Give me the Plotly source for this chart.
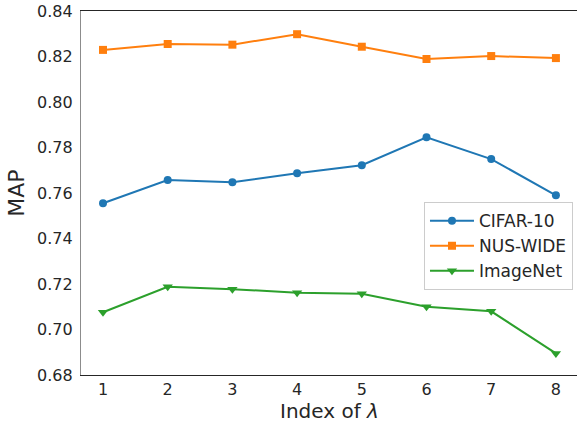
import plotly.graph_objects as go

x_index = [1, 2, 3, 4, 5, 6, 7, 8]
cifar10 = [0.7555, 0.7657, 0.7647, 0.7687, 0.7722, 0.7845, 0.7749, 0.7590]
nuswide = [0.8229, 0.8255, 0.8252, 0.8298, 0.8243, 0.8189, 0.8202, 0.8193]
imagenet = [0.7076, 0.7188, 0.7177, 0.7162, 0.7157, 0.7100, 0.7080, 0.6895]
y_ticks = [0.68, 0.70, 0.72, 0.74, 0.76, 0.78, 0.80, 0.82, 0.84]

FONT = "DejaVu Sans"
TXT = "#262626"

fig = go.Figure()
series = [
    ("CIFAR-10", cifar10, "#1f77b4", "circle", 8),
    ("NUS-WIDE", nuswide, "#ff7f0e", "square", 8),
    ("ImageNet", imagenet, "#2ca02c", "triangle-down", 9),
]
for name, vals, col, sym, sz in series:
    fig.add_trace(go.Scatter(
        x=x_index, y=vals, name=name, mode="lines+markers",
        line=dict(color=col, width=2),
        marker=dict(color=col, symbol=sym, size=sz, line=dict(width=0)),
        legendgroup=name,
    ))

fig.update_layout(
    width=577, height=422,
    margin=dict(l=81, r=0, t=11, b=47),
    paper_bgcolor="white", plot_bgcolor="white",
    font=dict(family=FONT, size=16, color=TXT),
    showlegend=True,
    legend=dict(
        x=0.6915, y=0.475, xanchor="left", yanchor="top",
        bordercolor="#cccccc", borderwidth=1, bgcolor="rgba(255,255,255,0.8)",
        font=dict(family=FONT, size=17, color=TXT),
        tracegroupgap=0, itemwidth=44,
    ),
    annotations=[dict(
        text="Index of <i>λ</i>", xref="paper", yref="paper",
        x=0.5, y=-0.1, xanchor="center", yanchor="middle",
        height=22, valign="middle", borderpad=0,
        showarrow=False, font=dict(family=FONT, size=20, color=TXT),
    )],
)
fig.update_xaxes(
    range=[0.66, 8.326], tickmode="array", tickvals=x_index,
    ticktext=[str(v) for v in x_index],
    showgrid=False, zeroline=False, automargin=False,
    showline=True, linecolor=TXT, linewidth=1.25, mirror=True,
    ticks="", ticklen=0,
    tickfont=dict(family=FONT, size=16, color=TXT),
)
fig.update_yaxes(
    range=[0.68, 0.84], tickmode="array", tickvals=y_ticks,
    ticktext=[f"{v:.2f}" for v in y_ticks],
    showgrid=False, zeroline=False, automargin=False,
    showline=True, linecolor="#8c8c8c", linewidth=1.25, mirror=False,
    ticks="outside", ticklen=4, tickcolor="rgba(0,0,0,0)",
    tickfont=dict(family=FONT, size=16, color=TXT),
    title=dict(text="MAP", font=dict(family=FONT, size=22, color=TXT), standoff=6),
)

fig.write_html("out.html")
